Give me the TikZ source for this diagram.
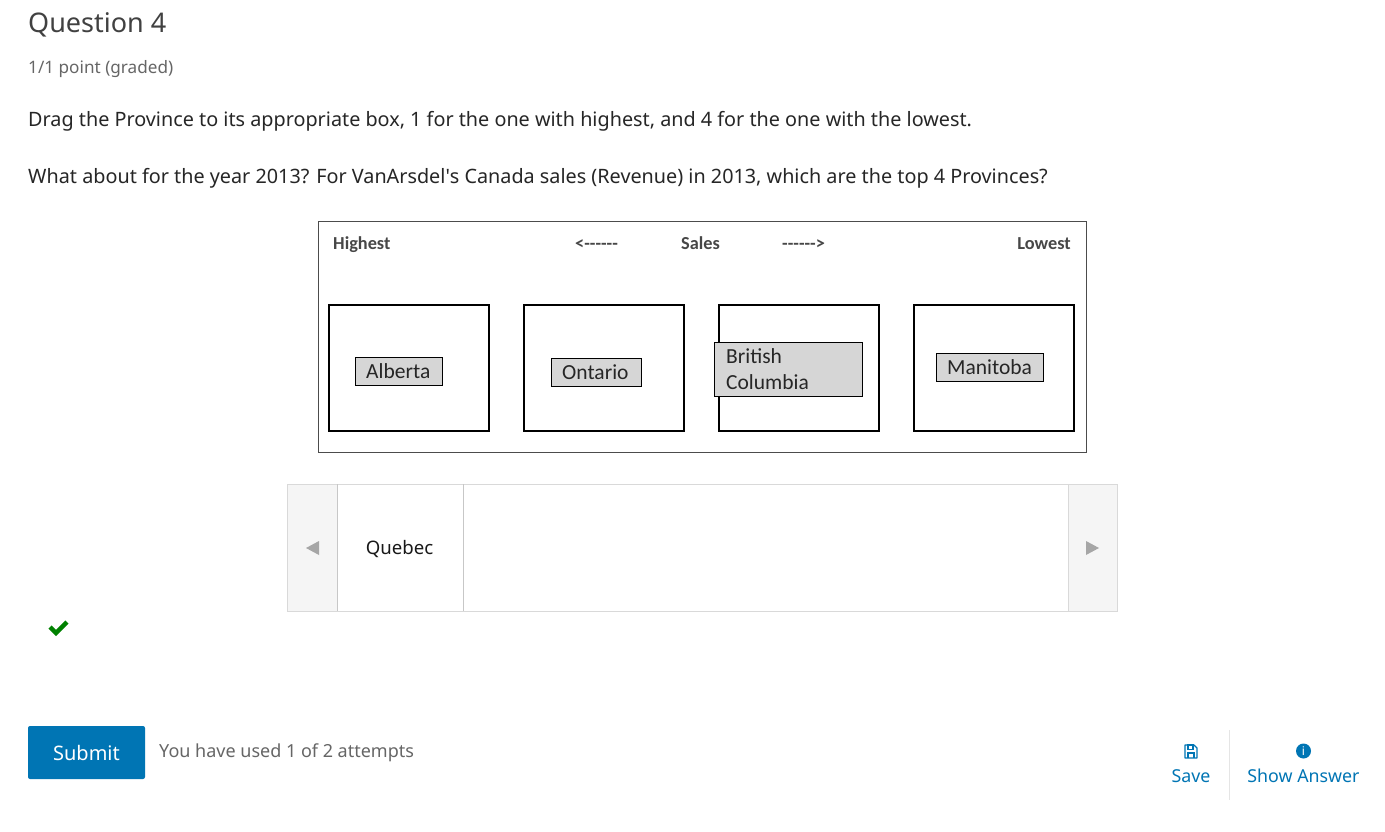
\documentclass[tikz,border=0pt]{standalone}
\usepackage{fontspec}
\setmainfont{Noto Sans}
\newfontfamily\calib{Carlito}
\begin{document}
\begin{tikzpicture}[x=1pt,y=-1pt,
  txt/.style={inner sep=0pt,anchor=base west},
  hdr/.style={inner sep=0pt,anchor=base west,font=\calib\fontsize{18.3}{22}\selectfont\bfseries,text=black!72},
  slot/.style={draw=black,line width=2.4pt},
  tag/.style={draw=black,line width=0.8pt,fill=black!16},
  tagtxt/.style={inner sep=0pt,anchor=base west,font=\calib\fontsize{21.5}{25}\selectfont,text=black!85},
  lnk/.style={inner sep=0pt,anchor=base,text=linkblue,font=\fontsize{17.8}{22}\selectfont}]
\definecolor{linkblue}{HTML}{0075B4}
\definecolor{ggray}{HTML}{414141}
\definecolor{okgreen}{HTML}{008100}
\useasboundingbox[fill=white] (0,0) rectangle (1385,832);
% heading
\node[txt,text=ggray,font=\fontsize{27}{32}\selectfont] (q) at (28,33) {Question 4};
\node[txt,text=black!60,font=\fontsize{17.15}{21}\selectfont] (pt) at (28,74) {1/1 point (graded)};
\node[txt,text=black!85,font=\fontsize{19.8}{24}\selectfont] (l1) at (28,127) {Drag the Province to its appropriate box, 1 for the one with highest, and 4 for the one with the lowest.};
\node[txt,text=black!85,font=\fontsize{19.8}{24}\selectfont] (l2) at (28,184) {What about for the year 2013? For VanArsdel\textquotesingle s Canada sales (Revenue) in 2013, which are the top 4 Provinces?};
% image frame
\draw[draw=black!70,line width=1pt] (318,221) rectangle (1086,452);
\node[hdr] (hi) at (333,249) {Highest};
\node[hdr] (la) at (575,249) {<------};
\node[hdr] (sa) at (681,249) {Sales};
\node[hdr] (ra) at (782,249) {------>};
\node[hdr,anchor=base east] (lo) at (1071,249) {Lowest};
\draw[slot] (329,305) rectangle (489,431);
\draw[slot] (524,305) rectangle (684,431);
\draw[slot] (719,305) rectangle (879,431);
\draw[slot] (914,305) rectangle (1074,431);
\draw[tag] (355,357) rectangle (442,385);
\node[tagtxt] (al) at (366,378) {Alberta};
\draw[tag] (551,358) rectangle (641,386);
\node[tagtxt] (on) at (562,379) {Ontario};
\draw[tag] (714,342) rectangle (862,396);
\node[tagtxt] (bc1) at (726,363) {British};
\node[tagtxt] (bc2) at (726,389) {Columbia};
\draw[tag] (936,353) rectangle (1043,381);
\node[tagtxt] (mb) at (947,374) {Manitoba};
% carousel
\fill[black!4] (287,484) rectangle (337,611);
\fill[black!4] (1068,484) rectangle (1117,611);
\draw[black!15,line width=1pt] (287,484) rectangle (1117,611);
\draw[black!22,line width=1pt] (337,484) -- (337,611);
\draw[black!22,line width=1pt] (463,484) -- (463,611);
\draw[black!15,line width=1pt] (1068,484) -- (1068,611);
\fill[black!35] (306,548) -- (319,541) -- (319,555) -- cycle;
\fill[black!35] (1099,548) -- (1086,541) -- (1086,555) -- cycle;
\node[inner sep=0pt,anchor=base,text=black!90,font=\fontsize{18.6}{22}\selectfont] (qc) at (399.5,554) {Quebec};
% check
\draw[okgreen,line width=4.5pt,line join=miter] (50,627) -- (56,633) -- (67,622);
% submit
\node[fill=linkblue,rounded corners=2pt,minimum width=117pt,minimum height=53pt,inner sep=0pt,text=white,font=\fontsize{20}{24}\selectfont] (sub) at (86.5,752.5) {Submit};
\node[txt,text=black!60,font=\fontsize{18}{22}\selectfont] (att) at (159,757) {You have used 1 of 2 attempts};
% save & show answer
\draw[black!10,line width=1pt] (1229,730) -- (1229,800);
\draw[linkblue,line width=1.2pt,line join=round] (1185,745) -- (1194,745) -- (1197,748) -- (1197,758) -- (1185,758) -- cycle;
\draw[linkblue,line width=1.2pt] (1188,745) rectangle (1193,749.5);
\draw[linkblue,line width=1.2pt] (1188,758) -- (1188,753) -- (1194,753) -- (1194,758);
\node[lnk] (save) at (1191,782) {Save};
\fill[linkblue] (1303.5,751) circle (7.5pt);
\node[inner sep=0pt,text=white,font=\fontsize{12}{14}\selectfont\bfseries] (ii) at (1303.5,751.5) {i};
\node[lnk] (show) at (1303.5,782) {Show Answer};
\end{tikzpicture}
\end{document}
